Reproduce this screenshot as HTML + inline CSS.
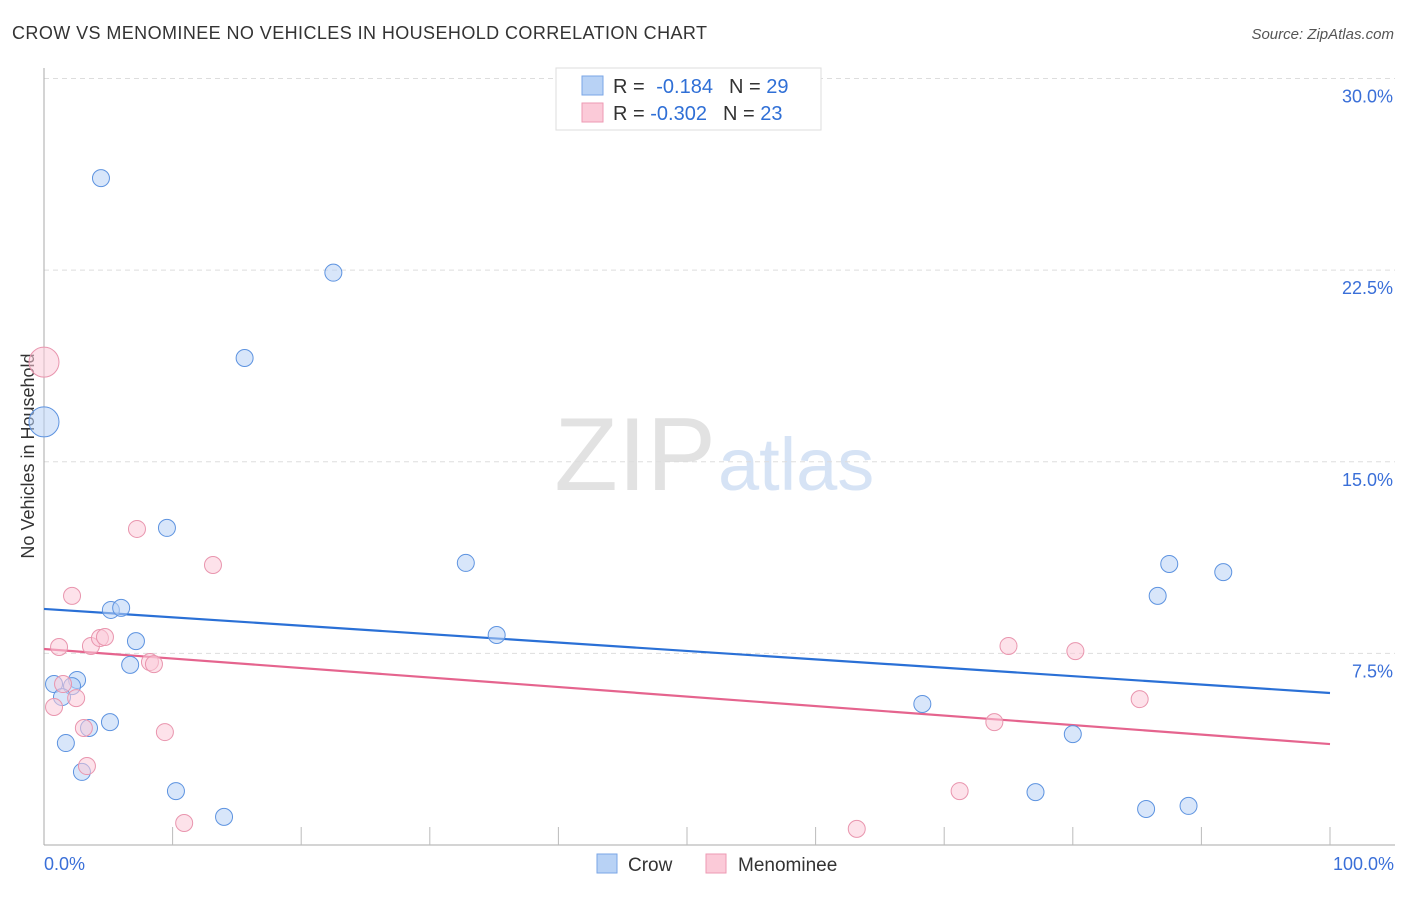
<!DOCTYPE html>
<html><head><meta charset="utf-8"><style>
body{margin:0;background:#fff;font-family:"Liberation Sans",sans-serif;}
svg text{font-family:"Liberation Sans",sans-serif;}
</style></head><body>
<svg id="chart" width="1406" height="892">
<text x="12" y="39" font-size="18" fill="#333" textLength="695">CROW VS MENOMINEE NO VEHICLES IN HOUSEHOLD CORRELATION CHART</text>
<text x="1394" y="39" font-size="15" fill="#555" text-anchor="end" font-style="italic">Source: ZipAtlas.com</text>
<text x="716" y="490" font-size="104" fill="#e2e2e2" text-anchor="end" font-family="Liberation Serif">ZIP</text>
<text x="718" y="490" font-size="74" fill="#d6e3f5">atlas</text>
<text transform="translate(34,456) rotate(-90)" font-size="18" fill="#333" text-anchor="middle">No Vehicles in Household</text>
<g id="grid"></g><g id="axes"></g><g id="trend"></g><g id="pts"></g>
<g>
<rect x="556" y="68" width="265" height="62" fill="#fff" stroke="#ddd"/>
<rect x="582" y="76" width="21" height="19" fill="#b8d2f5" stroke="#7aa6e6"/>
<text x="613" y="93" font-size="20" fill="#333">R = <tspan fill="#2f6fd6" dx="6">-0.184</tspan><tspan fill="#333" dx="16">N = </tspan><tspan fill="#2f6fd6">29</tspan></text>
<rect x="582" y="103" width="21" height="19" fill="#fbcad8" stroke="#ee9ab3"/>
<text x="613" y="120" font-size="20" fill="#333">R = <tspan fill="#2f6fd6">-0.302</tspan><tspan fill="#333" dx="16">N = </tspan><tspan fill="#2f6fd6">23</tspan></text>
</g>
<g>
<rect x="597" y="854" width="20" height="19" fill="#b8d2f5" stroke="#7aa6e6"/>
<text x="628" y="871" font-size="19" fill="#333">Crow</text>
<rect x="706" y="854" width="20" height="19" fill="#fbcad8" stroke="#ee9ab3"/>
<text x="738" y="871" font-size="19" fill="#333">Menominee</text>
</g>
</svg>
<script>
const yTicks=[7.5,15,22.5,30];
const yTickLabels=["7.5%","15.0%","22.5%","30.0%"];
const xTickLabels=["0.0%","100.0%"];
const crowX=[4.43,22.5,15.6,0,9.56,32.8,87.5,91.7,86.6,5.2,6.0,7.15,35.2,6.7,0.78,2.57,2.18,1.4,5.13,3.5,68.3,1.7,80.0,2.95,10.26,77.1,14.0,85.7,89.0];
const crowY=[26.1,22.4,19.06,16.56,12.41,11.04,11.0,10.68,9.75,9.2,9.28,7.98,8.22,7.05,6.3,6.46,6.22,5.79,4.81,4.58,5.52,3.99,4.34,2.86,2.11,2.07,1.1,1.41,1.53];
const menX=[0,7.23,13.14,2.18,1.17,3.65,4.35,4.74,8.24,8.55,75.0,80.2,1.48,2.5,0.78,85.2,3.1,9.4,73.9,3.34,71.2,10.9,63.2];
const menY=[18.9,12.37,10.96,9.75,7.75,7.79,8.1,8.14,7.16,7.08,7.79,7.59,6.3,5.75,5.4,5.71,4.58,4.42,4.81,3.09,2.11,0.86,0.63];
const crowTrend=[9.24,5.95];
const menTrend=[7.67,3.95];
const NS="http://www.w3.org/2000/svg";
const X=v=>44+v*12.86, Y=v=>845-v*25.55;
function mk(g,t,a){const e=document.createElementNS(NS,t);for(const k in a)e.setAttribute(k,a[k]);document.getElementById(g).appendChild(e);return e;}
yTicks.forEach((t,i)=>{
 const l=mk('grid','line',{x1:44,x2:1395,y1:Y(t),y2:Y(t),stroke:'#ddd','stroke-dasharray':'5,4'});
 
 
 const tx=mk('grid','text',{x:1393,y:Y(t)+24,'font-size':18,fill:'#3a6fd8','text-anchor':'end'});
 tx.textContent=yTickLabels[i];
 
 
});
let a=mk('axes','line',{x1:44,x2:44,y1:68,y2:845,stroke:'#aaa'});


a=mk('axes','line',{x1:44,x2:1395,y1:845,y2:845,stroke:'#aaa'});


for(let k=1;k<=10;k++){const t=mk('axes','line',{x1:X(k*10),x2:X(k*10),y1:827,y2:845,stroke:'#bbb'});
 
 }
[[0,'start',44],[100,'end',1394]].forEach((d,i)=>{const t=mk('axes','text',{x:d[2],y:870,'font-size':18,fill:'#3a6fd8','text-anchor':d[1]});t.textContent=xTickLabels[i];
 
 });
let tl=mk('trend','line',{x1:X(0),x2:X(100),y1:Y(crowTrend[0]),y2:Y(crowTrend[1]),stroke:'#2a70d6','stroke-width':2.2});


tl=mk('trend','line',{x1:X(0),x2:X(100),y1:Y(menTrend[0]),y2:Y(menTrend[1]),stroke:'#e5648e','stroke-width':2.2});


function pts(xs,ys,fill,stroke,name){xs.forEach((x,i)=>{const big=x===0;
 const c=mk('pts','circle',{cx:X(x),cy:Y(ys[i]),r:big?15:8.5,fill:fill,stroke:stroke,'stroke-width':1,'fill-opacity':0.55});
 
 });}
pts(crowX,crowY,'#b8d2f5','#5d93e0','crow-point');
pts(menX,menY,'#fbcad8','#e995ae','menominee-point');
</script>
</body></html>
